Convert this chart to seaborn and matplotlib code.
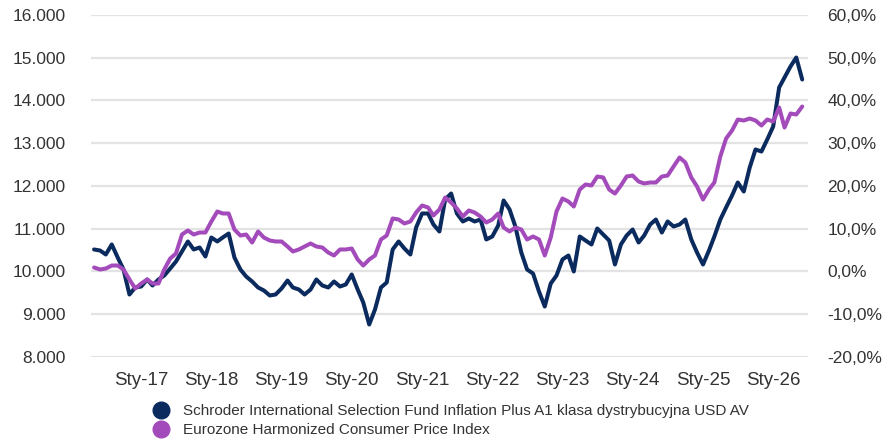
import numpy as np
import pandas as pd
import matplotlib
matplotlib.use("Agg")
import matplotlib.pyplot as plt
from matplotlib.lines import Line2D
from matplotlib.ticker import FuncFormatter
import seaborn as sns

# monthly readings, May 2016 - Jun 2026 (index value, start = 10.000)
fund = [10515, 10491, 10398, 10632, 10327, 10047, 9462, 9626, 9649, 9813,
        9673, 9813, 9906, 10070, 10234, 10468, 10702, 10515, 10561, 10351,
        10795, 10702, 10795, 10889, 10327, 10047, 9883, 9766, 9626, 9556,
        9439, 9462, 9602, 9789, 9626, 9579, 9462, 9579, 9813, 9673,
        9626, 9766, 9649, 9696, 9930, 9579, 9275, 8760, 9111, 9626,
        9743, 10515, 10702, 10538, 10398, 11029, 11357, 11357, 11099, 10936,
        11684, 11824, 11357, 11170, 11240, 11170, 11216, 10749, 10819, 11076,
        11661, 11450, 11053, 10444, 10047, 9953, 9532, 9181, 9719, 9906,
        10281, 10374, 10000, 10819, 10725, 10632, 11006, 10865, 10725, 10164,
        10632, 10842, 10982, 10678, 10842, 11099, 11216, 10912, 11170, 11053,
        11099, 11216, 10749, 10444, 10164, 10491, 10819, 11216, 11497, 11778,
        12082, 11871, 12433, 12854, 12807, 13087, 13392, 14304, 14538, 14795,
        15005, 14491]

hicp = [10094, 10047, 10070, 10140, 10140, 10047, 9813, 9602, 9719, 9813,
        9719, 9719, 10047, 10304, 10421, 10865, 10959, 10865, 10912, 10912,
        11170, 11403, 11357, 11357, 10982, 10842, 10865, 10678, 10936, 10795,
        10725, 10702, 10702, 10585, 10468, 10515, 10585, 10655, 10585, 10561,
        10444, 10374, 10515, 10515, 10538, 10281, 10140, 10281, 10374, 10749,
        10842, 11240, 11216, 11123, 11170, 11380, 11544, 11497, 11310, 11450,
        11731, 11614, 11474, 11286, 11427, 11380, 11286, 11146, 11216, 11357,
        11029, 10936, 11029, 10982, 10749, 10819, 10749, 10374, 10795, 11403,
        11707, 11637, 11520, 11918, 12035, 12012, 12222, 12199, 11918, 11824,
        12012, 12222, 12245, 12105, 12059, 12082, 12082, 12222, 12245, 12456,
        12666, 12550, 12199, 11988, 11684, 11918, 12082, 12690, 13111, 13298,
        13555, 13532, 13579, 13532, 13415, 13555, 13509, 13836, 13368, 13696,
        13672, 13859]

names = ["Schroder International Selection Fund Inflation Plus A1 klasa dystrybucyjna USD AV",
         "Eurozone Harmonized Consumer Price Index"]
colors = ["#0b2b5e", "#a44bbb"]
tick_years = [2017, 2018, 2019, 2020, 2021, 2022, 2023, 2024, 2025, 2026]
tick_labels = ["Sty-17", "Sty-18", "Sty-19", "Sty-20", "Sty-21",
               "Sty-22", "Sty-23", "Sty-24", "Sty-25", "Sty-26"]

dates = pd.date_range("2016-05-01", periods=len(fund), freq="MS")
df = pd.concat([
    pd.DataFrame({"date": dates, "value": fund, "series": names[0]}),
    pd.DataFrame({"date": dates, "value": hicp, "series": names[1]}),
])

sns.set_theme(style="white")
plt.rcParams["font.family"] = ["Liberation Sans", "DejaVu Sans"]

fig = plt.figure(figsize=(8.93, 4.42), dpi=100)
ax = fig.add_axes([0.1019, 0.1923, 0.8029, 0.7738])

sns.lineplot(data=df, x="date", y="value", hue="series", hue_order=names,
             palette=colors, linewidth=2.9, ax=ax, legend=False)

ax.set_ylim(8000, 16000)
ax.set_yticks(np.arange(8000, 16001, 1000))
ax.yaxis.set_major_formatter(FuncFormatter(lambda v, p: f"{v:,.0f}".replace(",", ".")))
ax.set_xlim(pd.Timestamp("2016-04-15"), pd.Timestamp("2026-07-01"))
ax.set_xticks([pd.Timestamp(f"{y}-01-01") for y in tick_years])
ax.set_xticklabels(tick_labels)
ax.grid(axis="y", color="#e3e3e3", linewidth=1.6)
ax.set_axisbelow(True)
ax.set_xlabel("")
ax.set_ylabel("")
for s in ax.spines.values():
    s.set_visible(False)
ax.tick_params(axis="y", length=0, pad=18, labelsize=12.5, labelcolor="#333333")
ax.tick_params(axis="x", length=0, pad=11, labelsize=13.5, labelcolor="#333333")

# right axis in percent, aligned with index level
ax2 = ax.twinx()
ax2.set_ylim(-20, 60)
ax2.set_yticks(np.arange(-20, 61, 10))
ax2.yaxis.set_major_formatter(FuncFormatter(lambda v, p: f"{v:.1f}%".replace(".", ",")))
ax2.tick_params(axis="y", length=0, pad=14, labelsize=12.5, labelcolor="#333333")
ax2.grid(False)
for s in ax2.spines.values():
    s.set_visible(False)

handles = [Line2D([], [], marker="o", linestyle="none", markersize=12,
                  color=c) for c in colors]
fig.legend(handles, names, loc="upper left", bbox_to_anchor=(154 / 893, 1 - 404 / 442),
           frameon=False, fontsize=11, handlelength=0.95, handletextpad=0.95,
           labelspacing=0.35, borderpad=0, borderaxespad=0, labelcolor="#333333")

fig.savefig("out.png", dpi=100)
